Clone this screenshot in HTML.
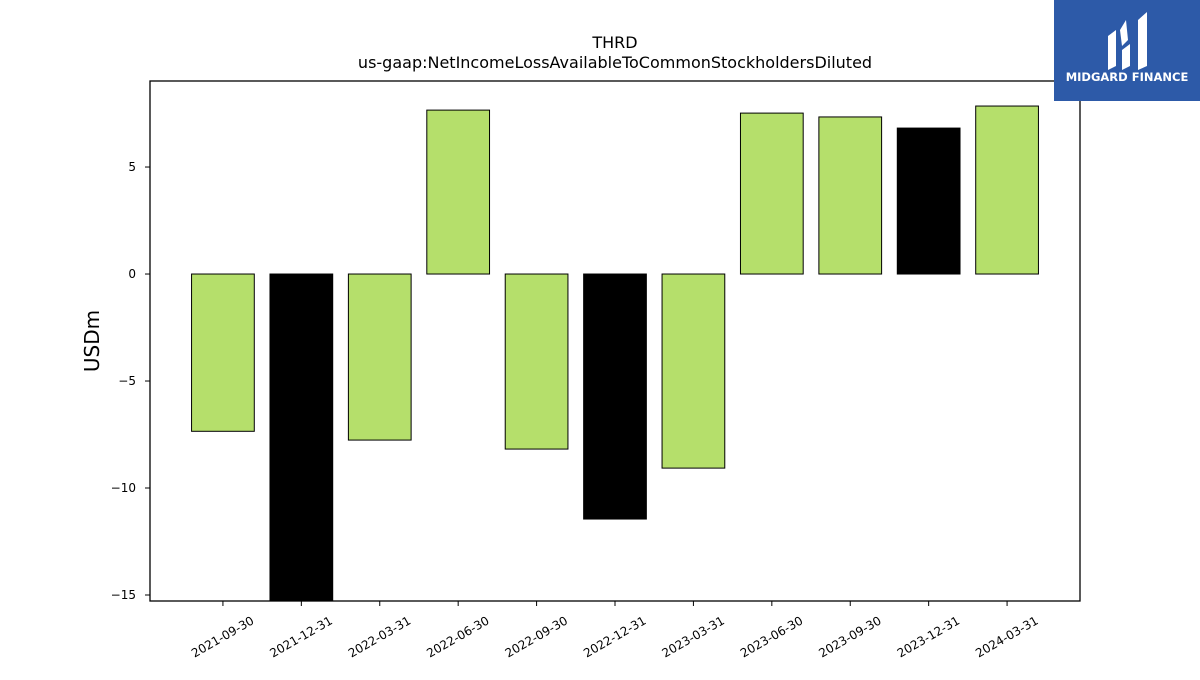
<!DOCTYPE html>
<html><head><meta charset="utf-8"><style>
body{margin:0;background:#fff;}
svg text{font-family:"DejaVu Sans","Liberation Sans",sans-serif;}
</style></head><body>
<svg id="chart" width="1200" height="675" xmlns="http://www.w3.org/2000/svg">
<rect width="1200" height="675" fill="#fff"/>
<text x="615" y="48" font-size="16" text-anchor="middle">THRD</text>
<text x="615" y="68" font-size="16" text-anchor="middle">us-gaap:NetIncomeLossAvailableToCommonStockholdersDiluted</text>
<text transform="translate(99,341) rotate(-90)" font-size="20" text-anchor="middle">USDm</text>
<g id="bars"></g>
<g id="axes"></g>
<g>
<rect x="1054" y="0" width="146" height="101" fill="#2d5aa8"/>
<path d="M1108 36 L1116 30 L1116 66 L1108 70 Z M1120 30 L1126 20 L1128 40 L1122 46 Z M1122 50 L1130 44 L1130 66 L1122 70 Z M1138 20 L1147 12 L1147 66 L1138 70 Z" fill="#fff"/>
<text x="1127" y="81" font-size="11.5" font-weight="bold" fill="#fff" text-anchor="middle">MIDGARD FINANCE</text>
</g>
</svg>
<script>
const categories=["2021-09-30","2021-12-31","2022-03-31","2022-06-30","2022-09-30","2022-12-31","2023-03-31","2023-06-30","2023-09-30","2023-12-31","2024-03-31"];
const values=[-7.35,-15.3,-7.76,7.66,-8.18,-11.45,-9.07,7.52,7.34,6.82,7.85];
const colors=["#b5df6b","#000000","#b5df6b","#b5df6b","#b5df6b","#000000","#b5df6b","#b5df6b","#b5df6b","#000000","#b5df6b"];
const yTicks=[5,0,-5,-10,-15];
const yTickLabels=["5","0","\u22125","\u221210","\u221215"];
const NS="http://www.w3.org/2000/svg";
const L=150,R=1080,T=81,B=601;
const yMin=-15.28,yMax=9.02;
const xMin=-0.93,xMax=categories.length-1+0.93;
const y=v=>T+(yMax-v)/(yMax-yMin)*(B-T);
const x=i=>L+(i-xMin)/(xMax-xMin)*(R-L);
const bw=0.8*(x(1)-x(0));
const bars=document.getElementById('bars'),axes=document.getElementById('axes');
function mk(t,a,p){const e=document.createElementNS(NS,t);for(const k in a)e.setAttribute(k,a[k]);p.appendChild(e);return e;}
values.forEach((v,i)=>{
 const y0=Math.max(T,Math.min(B,y(Math.max(v,0)))),y1=Math.max(T,Math.min(B,y(Math.min(v,0))));
 const r=mk('rect',{x:x(i)-bw/2,y:y0,width:bw,height:y1-y0,fill:colors[i],stroke:'#000','stroke-width':1},bars);
 
 
});
const frame=mk('rect',{x:L,y:T,width:R-L,height:B-T,fill:'none',stroke:'#000','stroke-width':1.3},axes);


yTicks.forEach((t,i)=>{
 mk('line',{x1:L-5,x2:L,y1:y(t),y2:y(t),stroke:'#000'},axes);
 const tx=mk('text',{x:L-14,y:y(t)+4,'font-size':12,'text-anchor':'end'},axes);
 tx.textContent=yTickLabels[i];
 
 
});
categories.forEach((c,i)=>{
 mk('line',{x1:x(i),x2:x(i),y1:B,y2:B+5,stroke:'#000'},axes);
 const tx=mk('text',{'font-size':12,'text-anchor':'end',transform:`translate(${x(i)+32},${B+22}) rotate(-30)`},axes);
 tx.textContent=c;
 
 
});
</script>
</body></html>
